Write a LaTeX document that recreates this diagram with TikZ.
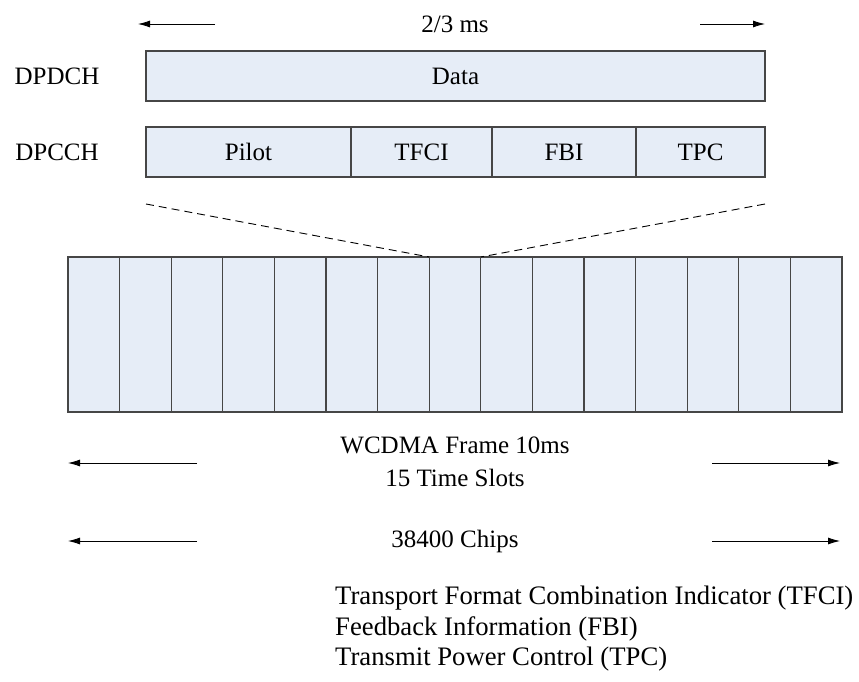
\documentclass[tikz,border=0pt]{standalone}
\usepackage{fontspec}
\setmainfont{Liberation Serif}
\usetikzlibrary{positioning}
\usetikzlibrary{arrows.meta}
\definecolor{slotblue}{RGB}{230,237,247}
\definecolor{edge}{RGB}{70,70,70}

\begin{document}
\begin{tikzpicture}[x=1pt,y=-1pt,
  field/.style={draw=edge, fill=slotblue, line width=1.2pt, minimum height=50pt,
                inner sep=0pt, outer sep=0pt, anchor=north west, text height=22pt,
                text depth=5.5pt, font=\fontsize{25}{30}\selectfont},
  slotbox/.style={draw=edge, fill=slotblue, line width=1.2pt, minimum width=51.6pt,
                  minimum height=155pt, inner sep=0pt, outer sep=0pt, anchor=north west},
  lbl/.style={font=\fontsize{25}{33}\selectfont, inner sep=0pt},
  legend/.style={font=\fontsize{26.7}{30}\selectfont, inner sep=0pt, anchor=west},
  span/.style={-{Latex[length=12pt,width=7pt]}, line width=0.8pt}]

\useasboundingbox (0,0) rectangle (859,682);

%---------------------------------------
% One slot: DPDCH and DPCCH
%---------------------------------------
\node[lbl] (dpdch) at (57,76) {DPDCH};
\node[lbl] (dpcch) at (57,152) {DPCCH};

\node[field, minimum width=619pt] (data) at (146,51) {Data};

\node[field, minimum width=205pt] (pilot) at (146,127) {Pilot};
\node[field, minimum width=141pt, right=0pt of pilot] (tfci) {TFCI};
\node[field, minimum width=144pt, right=0pt of tfci] (fbi) {FBI};
\node[field, minimum width=129pt, right=0pt of fbi] (tpc) {TPC};

% slot length
\node[lbl] (slotlen) at (455,24) {2/3 ms};
\coordinate (sl1) at (215,24);
\coordinate (sl2) at (138,24);
\coordinate (sr1) at (700,24);
\coordinate (sr2) at (765,24);
\draw[span] (sl1) -- (sl2);
\draw[span] (sr1) -- (sr2);

%---------------------------------------
% Frame of 15 slots
%---------------------------------------
\foreach \i in {1,...,15}
  \node[slotbox] (s\i) at ({68+(\i-1)*51.6},257) {};

% zoom lines
\coordinate (zl) at (146,204);
\coordinate (zr) at (765,204);
\draw[line width=0.9pt, dash pattern=on 8pt off 5pt] (zl) -- (s8.north west);
\draw[line width=0.9pt, dash pattern=on 8pt off 5pt] (zr) -- (s8.north east);

% frame length
\node[lbl, align=center] (frame) at (455,462) {WCDMA Frame 10ms\\15 Time Slots};
\node[lbl] (chips) at (455,541) {38400 Chips};
\coordinate (fl1) at (197,463);
\coordinate (fl2) at (68,463);
\coordinate (fr1) at (712,463);
\coordinate (fr2) at (840,463);
\coordinate (cl1) at (197,541);
\coordinate (cl2) at (68,541);
\coordinate (cr1) at (712,541);
\coordinate (cr2) at (840,541);
\draw[span] (fl1) -- (fl2);
\draw[span] (fr1) -- (fr2);
\draw[span] (cl1) -- (cl2);
\draw[span] (cr1) -- (cr2);

%---------------------------------------
% Legend
%---------------------------------------
\node[legend] (leg1) at (335,598) {Transport Format Combination Indicator (TFCI)};
\node[legend] (leg2) at (335,629) {Feedback Information (FBI)};
\node[legend] (leg3) at (335,659) {Transmit Power Control (TPC)};

\end{tikzpicture}
\end{document}
